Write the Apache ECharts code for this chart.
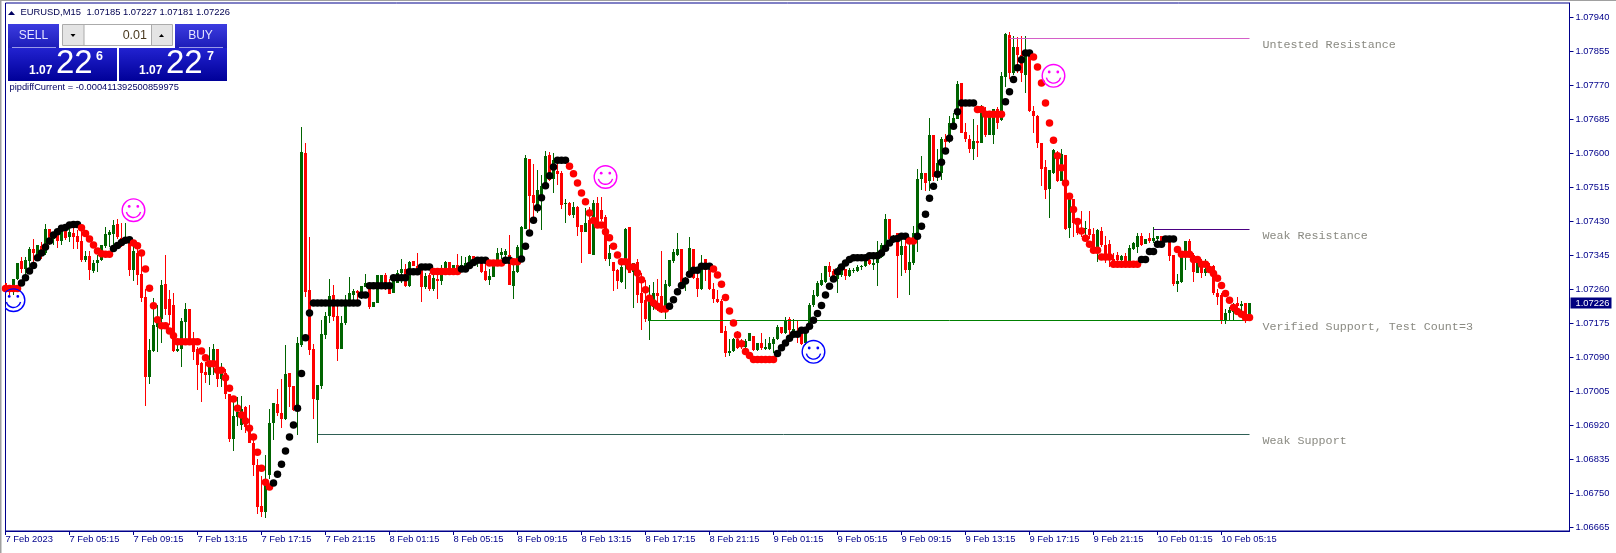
<!DOCTYPE html>
<html><head><meta charset="utf-8">
<style>html,body{margin:0;padding:0;background:#fff}#c{width:1616px;height:553px}</style>
<script src="https://cdn.jsdelivr.net/npm/echarts@6/dist/echarts.min.js"></script>
</head><body><div id="c"></div>
<script>
// Prices are stored as points (0.00001) above basePrice.
const basePrice = 1.07;
const tickLabels = ["7 Feb 2023","7 Feb 05:15","7 Feb 09:15","7 Feb 13:15","7 Feb 17:15","7 Feb 21:15","8 Feb 01:15","8 Feb 05:15","8 Feb 09:15","8 Feb 13:15","8 Feb 17:15","8 Feb 21:15","9 Feb 01:15","9 Feb 05:15","9 Feb 09:15","9 Feb 13:15","9 Feb 17:15","9 Feb 21:15","10 Feb 01:15","10 Feb 05:15"];
const priceTicks = [1.06665,1.0675,1.06835,1.0692,1.07005,1.0709,1.07175,1.0726,1.07345,1.0743,1.07515,1.076,1.07685,1.0777,1.07855,1.0794];
const opens = [
275,266,258,285,331,312,331,362,341,369,
351,411,387,400,380,408,391,400,394,380,
333,344,306,325,333,369,396,398,423,389,
380,383,308,351,298,241,41,105,166,185,
273,235,220,105,112,179,210,133,112,75,
54,46,79,112,35,50,-2,-115,-60,-79,
-35,-79,-123,-179,-282,-296,-204,-75,-27,-50,
-64,50,18,-38,121,601,258,111,-17,18,
146,193,245,194,112,175,218,246,255,248,
266,262,216,226,275,296,275,251,277,300,
310,268,330,319,308,265,295,261,286,280,
312,329,300,321,308,312,321,343,325,325,
305,283,291,329,345,345,345,269,304,337,
412,585,495,462,487,525,595,535,555,551,
474,475,445,465,420,404,433,346,475,458,
440,335,329,308,279,325,416,304,329,250,
233,181,216,250,243,216,268,331,347,360,
273,300,360,289,262,337,308,262,237,231,
155,101,105,135,129,115,131,143,108,127,
112,112,123,135,166,151,185,151,154,151,
125,175,220,243,270,279,319,305,287,295,
310,293,306,306,315,318,333,320,325,341,
358,435,379,400,346,368,308,325,391,536,
552,531,647,541,550,635,641,662,687,775,
654,635,610,631,625,695,645,645,710,683,
791,895,801,865,847,796,845,705,693,625,
565,510,550,601,531,595,414,485,437,412,
410,410,398,354,405,370,373,337,345,333,
343,329,360,366,393,373,389,380,385,393,
391,390,347,273,278,345,380,345,302,331,
300,316,318,250,245,183,201,204,226,218,
225,185];
const closes = [
255,258,287,327,312,333,362,350,370,345,
411,383,400,380,408,389,404,391,379,333,
344,308,327,333,372,398,404,420,390,380,
389,308,355,295,239,41,108,172,183,270,
212,195,105,112,180,212,129,104,70,51,
46,79,112,36,50,-2,-114,-57,-46,-38,
-85,-123,-179,-284,-296,-228,-75,-25,-49,-64,
48,16,-42,125,604,254,108,-15,21,148,
193,243,191,112,177,218,250,256,250,268,
275,215,228,296,295,275,248,283,302,310,
269,329,318,304,266,293,261,289,280,300,
329,308,321,304,322,325,343,329,333,304,
283,294,325,350,354,355,270,305,366,416,
589,494,477,508,518,593,533,583,548,471,
476,445,466,416,404,427,348,475,425,437,
335,350,306,281,316,412,300,325,246,226,
185,231,250,243,212,273,333,354,360,275,
287,364,289,262,325,308,262,235,229,152,
101,105,135,114,116,131,152,108,125,114,
115,125,137,166,151,183,158,160,151,123,
151,222,245,275,283,318,304,283,308,308,
294,308,308,315,318,331,323,325,354,371,
437,387,391,344,368,308,329,400,537,552,
526,645,541,577,635,629,677,689,773,650,
635,610,630,625,700,645,691,710,675,793,
898,801,865,846,800,850,705,693,626,562,
508,558,608,531,598,412,487,426,400,400,
414,395,354,408,370,337,335,329,333,343,
326,363,376,393,370,385,380,389,393,381,
383,343,273,280,348,380,345,304,331,300,
312,304,250,241,183,201,208,220,218,223,
185,226];
const lows = [
250,246,247,283,300,291,312,325,331,337,
347,371,371,364,372,383,379,360,362,329,
329,283,301,304,331,364,366,362,387,366,
375,293,280,270,229,-31,23,104,104,125,
195,170,104,104,66,137,120,83,8,-21,
25,22,45,16,16,-13,-121,-144,-82,-92,
-100,-125,-206,-302,-309,-311,-215,-117,-57,-86,
-67,-34,-44,-104,116,241,95,-63,-125,12,
137,176,180,81,112,170,218,220,218,237,
266,212,216,226,270,258,248,250,275,276,
266,266,318,304,229,260,255,257,236,272,
310,308,300,304,305,308,317,325,315,300,
280,270,291,325,335,330,270,236,300,330,
410,400,433,450,408,510,530,500,520,461,
426,443,439,393,326,404,348,346,420,430,
330,318,256,260,276,261,300,213,226,158,
179,133,208,206,202,186,265,325,343,272,
256,295,285,241,258,281,258,225,225,150,
91,93,103,112,112,112,131,105,105,108,
108,108,100,133,148,148,130,150,125,120,
122,170,215,240,268,275,290,280,250,291,
284,291,300,304,308,316,320,308,268,338,
355,383,375,238,293,300,246,322,353,508,
505,506,531,531,533,605,625,660,685,650,
628,600,583,590,625,640,645,623,661,680,
767,785,797,800,779,752,703,650,614,518,
486,438,548,528,530,408,389,391,397,390,
393,385,350,329,365,325,315,315,325,325,
325,325,358,351,368,373,375,375,380,378,
378,331,268,253,276,309,345,279,300,288,
293,300,245,220,173,173,183,180,200,190,
175,181];
const highs = [
275,268,287,327,341,341,366,385,370,379,
423,411,403,412,416,416,419,420,408,410,
355,355,333,345,372,416,408,433,435,425,
425,387,379,370,354,262,137,239,220,283,
347,258,250,137,189,225,212,154,116,79,
79,116,123,112,77,62,-2,-9,-9,-7,
-32,-28,-109,-165,-207,-154,-38,-24,12,37,
120,51,18,141,666,625,391,123,21,183,
204,285,270,219,193,245,290,262,258,268,
298,275,228,296,295,302,287,296,308,337,
323,331,330,350,316,300,300,295,295,322,
332,329,321,348,343,340,347,343,340,340,
325,312,333,363,363,362,395,320,370,419,
596,585,573,558,545,605,603,600,580,557,
485,478,478,468,420,463,465,483,490,490,
445,370,329,310,320,414,416,325,335,302,
283,270,278,285,355,283,333,360,400,360,
290,390,360,310,345,337,325,275,258,235,
168,135,138,155,135,135,152,143,127,152,
135,142,140,170,166,190,190,185,183,160,
155,225,258,280,300,318,328,310,315,316,
310,313,313,320,322,333,335,345,381,375,
448,437,395,400,400,400,390,418,562,593,
552,688,647,612,640,648,693,700,782,775,
675,645,685,670,722,715,700,710,717,803,
900,903,893,890,893,893,845,718,697,625,
583,558,610,605,612,597,491,487,437,455,
430,455,413,412,415,393,383,350,353,345,
350,370,378,400,400,385,400,415,393,393,
393,393,347,298,350,382,385,350,340,335,
335,325,322,262,250,210,215,225,240,232,
225,227];
const dotValues = [
262,262,262,262,276,289,306,320,339,351,
366,381,396,404,413,415,421,422,422,414,
400,386,371,356,349,348,348,362,370,377,
383,384,376,369,351,311,263,219,184,169,
169,156,144,129,129,129,129,129,129,106,
89,74,74,58,58,39,13,-14,-37,-54,
-69,-87,-109,-147,-187,-222,-234,-224,-202,-177,
-144,-109,-79,-37,50,139,201,226,226,226,
226,226,226,226,226,226,226,226,226,246,
246,269,269,269,269,269,269,289,289,289,
289,304,304,304,316,316,316,305,305,305,
305,305,305,305,311,311,320,327,333,333,
333,326,326,326,326,333,333,329,329,336,
368,401,433,464,489,519,544,566,583,583,
583,568,549,526,501,479,451,432,421,421,
404,389,368,346,329,329,316,316,301,284,
259,238,226,218,211,211,218,234,254,270,
281,298,308,308,318,318,318,311,296,273,
240,206,176,146,124,105,95,85,85,85,
85,85,85,100,114,126,138,148,148,158,
158,168,183,200,220,246,268,286,304,316,
326,335,339,339,339,339,344,344,344,351,
363,376,386,387,393,393,381,381,393,418,
448,488,518,548,578,606,638,668,704,726,
726,726,726,710,710,698,698,698,698,698,
729,754,785,814,834,851,851,841,816,776,
726,676,633,594,564,526,493,460,430,406,
388,373,358,358,341,341,341,323,323,323,
323,323,323,323,335,335,355,355,373,373,
386,386,386,360,348,348,348,335,335,323,
323,310,300,288,270,250,233,215,205,198,
190,190];
const blackDotRanges = [[4,18],[27,31],[67,106],[114,120],[125,126],[129,140],[166,176],[193,225],[228,242],[250,256],[284,292]];
const zoneStarts = [251,287,161,78];
const zoneEnds = [311,311,311,311];
const zoneValues = [887,410,182,-103];
const zoneNames = ["Untested Resistance","Weak Resistance","Verified Support, Test Count=3","Weak Support"];
const zoneColors = ["#d45fc8","#4b0082","#008000","#2f5f55"];
const smileBars = [2,32,150,202,262];
const smileValues = [233,458,541,104,794];
const smileColors = ["#0000ff","#ff00ff","#ff00ff","#0000ff","#ff00ff"];
const lastPrice = 1.07226;

const toPrice = v => basePrice + v / 100000;
const totalSlots = 392, tickStep = 16;
const NAVY = '#00008b', FONT = '"Liberation Sans", Arial, sans-serif';
const chart = echarts.init(document.getElementById('c'), null, {width:1616, height:553});
const isBlack = i => blackDotRanges.some(r => i >= r[0] && i <= r[1]);
const tickAt = i => i % tickStep === 0 && i / tickStep < tickLabels.length;
const blueGrad = (a, b) => new echarts.graphic.LinearGradient(0,0,0,1,[{offset:0,color:a},{offset:1,color:b}]);
const txt = (text, x, y, size, fill, align, weight) => ({type:'text', silent:true, z:10, style:{text, x, y, fill, align:align||'left', verticalAlign:'middle', font:(weight||'normal')+' '+size+'px '+FONT}});
const box = (x, y, w, h, fill, stroke) => ({type:'rect', silent:true, z:9, shape:{x,y,width:w,height:h}, style:{fill, stroke:stroke||null, lineWidth:stroke?1:0}});
const tri = (pts, fill) => ({type:'polygon', silent:true, z:10, shape:{points:pts}, style:{fill}});

const panel = [
  box(0,0,1.5,553,'#a0a0a0'), box(0,0,1616,1,'#a0a0a0'),
  tri([[8,15],[15,15],[11.5,11]],'#000060'),
  txt('EURUSD,M15',20.5,12.5,9.4,'#000050'),
  txt('1.07185 1.07227 1.07181 1.07226',86.5,12.5,9.4,'#000050'),
  box(8,24,51,24,blueGrad('#3c3ce0','#1c1cb8')),
  box(175,24,52,24,blueGrad('#3c3ce0','#1c1cb8')),
  box(12,47,44,1,'#9a9ae8'), box(179,47,44,1,'#9a9ae8'),
  txt('SELL',33.5,35.5,12,'#e4e4ff','center'),
  txt('BUY',200.5,35.5,12,'#e4e4ff','center'),
  box(62.5,24.5,110,21,'#ffffff','#ababab'),
  box(63,25,21,20,'#e4e4e4'), box(151,25,21,20,'#e4e4e4'),
  box(83.5,25,1,20,'#ababab'), box(151,25,1,20,'#ababab'),
  tri([[70.5,34],[75.5,34],[73,37]],'#000000'),
  tri([[159,37],[164,37],[161.5,34]],'#000000'),
  txt('0.01',147,35.5,12.5,'#4a3a20','right'),
  box(8,48,109,33,blueGrad('#2222d0','#000098')),
  box(119,48,108,33,blueGrad('#2222d0','#000098')),
  txt('1.07',29,71,12,'#ffffff','left','bold'),
  txt('22',56,64,33,'#ffffff'),
  txt('6',96,56.5,12.5,'#ffffff','left','bold'),
  txt('1.07',139,71,12,'#ffffff','left','bold'),
  txt('22',166,64,33,'#ffffff'),
  txt('7',207,56.5,12.5,'#ffffff','left','bold'),
  txt('pipdiffCurrent = -0.000411392500859975',9.5,87,9.3,'#000060')
];

chart.setOption({
  animation:false,
  backgroundColor:'#ffffff',
  grid:{left:5.5, top:3, width:1564, height:528, show:true, borderColor:NAVY, borderWidth:1, backgroundColor:'transparent'},
  xAxis:{type:'category', boundaryGap:false, data:Array.from({length:totalSlots},(_,i)=>String(i)),
    axisLine:{lineStyle:{color:NAVY,width:1}},
    axisTick:{show:true,length:4,interval:i=>tickAt(i),lineStyle:{color:NAVY}},
    axisLabel:{color:NAVY,fontFamily:FONT,fontSize:9.4,align:'left',margin:4,interval:i=>tickAt(i),hideOverlap:false,
      formatter:(v,i)=>tickLabels[i/tickStep]||''},
    splitLine:{show:false}},
  yAxis:{type:'value', position:'right', min:1.06656, max:1.07976, scale:true,
    axisLine:{show:true,lineStyle:{color:NAVY,width:1}},
    axisTick:{show:true,length:4,customValues:priceTicks,lineStyle:{color:NAVY}},
    axisLabel:{color:NAVY,fontFamily:FONT,fontSize:9.4,margin:6,customValues:priceTicks,formatter:v=>v.toFixed(5),showMinLabel:true,showMaxLabel:true},
    splitLine:{show:false}},
  graphic:panel,
  series:[
    {type:'custom', silent:true, z:2, clip:true,
     data:opens.map((o,i)=>[i,toPrice(o),toPrice(closes[i]),toPrice(lows[i]),toPrice(highs[i])]),
     renderItem:(p,api)=>{
       const i=api.value(0), o=api.value(1), c=api.value(2);
       const col=c>=o?'#006400':'#ff0000';
       const x=Math.floor(api.coord([i,o])[0]);
       const yOf=v=>Math.round(api.coord([i,v])[1]);
       const hi=yOf(api.value(4)), lo=yOf(api.value(3));
       const top=yOf(Math.max(o,c)), bot=yOf(Math.min(o,c));
       return {type:'group',children:[
         {type:'rect',shape:{x:x,y:hi,width:1,height:Math.max(1,lo-hi)},style:{fill:col}},
         {type:'rect',shape:{x:x-1,y:top,width:3,height:Math.max(1,bot-top)},style:{fill:col}}
       ]};
     }},
    {type:'custom', silent:true, z:3, clip:false,
     data:zoneStarts.map((s,i)=>[s,zoneEnds[i],toPrice(zoneValues[i])]),
     renderItem:(p,api)=>{
       const a=api.coord([api.value(0),api.value(2)]), b=api.coord([api.value(1),api.value(2)]);
       const y=Math.floor(a[1])+0.5;
       return {type:'group',children:[
         {type:'line',shape:{x1:a[0],y1:y,x2:b[0],y2:y},style:{stroke:zoneColors[p.dataIndex],lineWidth:1}},
         {type:'text',style:{text:zoneNames[p.dataIndex],x:b[0]+13,y:y+6.5,fill:'#8a8a82',align:'left',verticalAlign:'middle',font:'11.7px "Liberation Mono", monospace'}}
       ]};
     }},
    {type:'scatter', symbol:'circle', symbolSize:7.5, silent:true, z:4, clip:true,
     itemStyle:{color:p=>isBlack(p.dataIndex)?'#000000':'#ff0000',opacity:1},
     data:dotValues.map((v,i)=>[i,toPrice(v)])},
    {type:'custom', silent:true, z:5, clip:true,
     data:smileBars.map((b,i)=>[b,toPrice(smileValues[i])]),
     renderItem:(p,api)=>{
       const c=api.coord([api.value(0),api.value(1)]), col=smileColors[p.dataIndex];
       const ring={stroke:col,fill:null,lineWidth:1.4};
       return {type:'group',x:c[0],y:c[1],children:[
         {type:'circle',shape:{cx:0,cy:0,r:11.3},style:ring},
         {type:'circle',shape:{cx:-4.3,cy:-3.8,r:1.4},style:{fill:col}},
         {type:'circle',shape:{cx:4.3,cy:-3.8,r:1.4},style:{fill:col}},
         {type:'arc',shape:{cx:0,cy:0,r:7.3,startAngle:0.25,endAngle:Math.PI-0.25,clockwise:true},style:ring}
       ]};
     }},
    {type:'custom', silent:true, z:6, clip:false,
     data:[[totalSlots-1,lastPrice]],
     renderItem:(p,api)=>{
       const c=api.coord([api.value(0),api.value(1)]);
       return {type:'group',children:[
         {type:'rect',shape:{x:c[0]+1,y:c[1]-5.5,width:41,height:11},style:{fill:'#000080'}},
         {type:'text',style:{text:api.value(1).toFixed(5),x:c[0]+6,y:c[1],fill:'#ffffff',align:'left',verticalAlign:'middle',font:'9.4px '+FONT}}
       ]};
     }}
  ]
});
</script></body></html>
